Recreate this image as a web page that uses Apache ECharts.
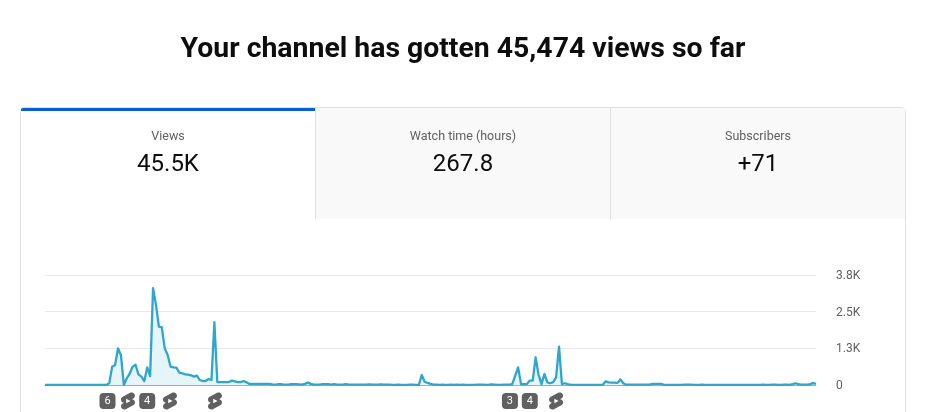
<!DOCTYPE html>
<html>
<head>
<meta charset="utf-8">
<style>html,body{margin:0;padding:0;background:#fff;overflow:hidden}#c{width:926px;height:412px}</style>
<script src="https://cdn.jsdelivr.net/npm/echarts@6/dist/echarts.min.js"></script>
</head>
<body>
<div id="c"></div>
<script>
const pageTitle = 'Your channel has gotten 45,474 views so far';
const tabNames = ['Views', 'Watch time (hours)', 'Subscribers'];
const tabValues = ['45.5K', '267.8', '+71'];
const tickValues = [0, 1250, 2500, 3750];
const tickLabels = ['0', '1.3K', '2.5K', '3.8K'];
const viewsA = [0,0,0,0,0,0,0,0,0,0,0,0,0,0,0,0,0,0,0,0,0,
  0,57,625,680,1250,1020,0,230,385,625,690,365,285,135,600,305,3300,2730,1990,1965,1250,1020,625,600,590,420,400,365,350,330,285,320,170,135,135,205,170,2140,100,
  100,100,100,100,150,125,100,100,135,90];
const viewsB = [35,40,40,40,40,40,40,35,10,10,30,25,10,10,25,30,30,20,10,40,80,40,10,10,10,30,30,30,10,30,10,10,10,30,10,10,10,10,10,10,10,25,10,10,10,25,10,10,15,5,5,15,5,5,5,10,15,5,5,
  340,110,70,40,15,10,5,15,5,5,15,5,15,5,15,5,5,5,5,15,10,15,5,10,20,15,5,5,10,10,10];
const viewsC = [30,320,600,30,30,30,150,150,945,350,30,375,90,60,100,260,1310,30,60,30,5,5,5,5,5,5,5,5,5,5,5,5,
  125,90,80,80,70,190,60,10,10,10,10,10,10,10,10,10,35,35,35,35,5,5,5,5,5,5,5,15,15,15,5,5,5,15,
  3,3,3,3,3,3,3,3,3,3,3,3,3,3,3,3,3,3,3,3,10,3,3,15,15,3,3,15,15,5,30,60,25,15,10,10,30,65,40];
const views = viewsA.concat(viewsB, viewsC);
const markerDays = [21.4, 28.4, 35, 42.8, 58.2, 159.2, 166, 175];
const markerLabels = ['6', '', '4', '', '', '3', '4', ''];

const shortsIcon = 'path://M10 14.65v-5.3L15 12l-5 2.65zm7.77-4.33c-.77-.32-1.2-.5-1.2-.5L18 9.06c1.84-.96 2.53-3.23 1.56-5.06s-3.24-2.53-5.07-1.56L6 6.94c-1.29.68-2.07 2.04-2 3.49.07 1.42.93 2.67 2.22 3.25.03.01 1.2.5 1.2.5L6 14.93c-1.83.97-2.53 3.24-1.56 5.07.97 1.83 3.24 2.53 5.07 1.56l8.5-4.5c1.29-.68 2.06-2.04 1.99-3.49-.07-1.42-.94-2.68-2.23-3.25z';
const font = 'Roboto';
const chart = echarts.init(document.getElementById('c'), null, {renderer: 'canvas'});

const tabX = [21, 316, 611], tabW = [294, 294, 294], tabC = [168, 463, 758];
const gfx = [];
gfx.push({type:'rect', z:0, shape:{x:20.5,y:107.5,width:885,height:320,r:4}, style:{fill:'#fff',stroke:'#e0e0e0',lineWidth:1}});
[1,2].forEach(k => gfx.push({type:'rect', z:1, shape:{x:tabX[k],y:108,width:tabW[k],height:111}, style:{fill:'#f9f9f9'}}));
gfx.push({type:'rect', z:2, shape:{x:315,y:108,width:1,height:111}, style:{fill:'#e0e0e0'}});
gfx.push({type:'rect', z:2, shape:{x:610,y:108,width:1,height:111}, style:{fill:'#e0e0e0'}});
gfx.push({type:'rect', z:3, shape:{x:21,y:108,width:294,height:3,r:[2,0,0,0]}, style:{fill:'#065fd4'}});
tabNames.forEach((n,k) => {
  gfx.push({type:'text', z:4, x:tabC[k], y:137, style:{text:n, font:'12.5px '+font, fill:'#606060', align:'center', verticalAlign:'middle'}});
  gfx.push({type:'text', z:4, x:tabC[k], y:165, style:{text:tabValues[k], font:'24px '+font, fill:'#0d0d0d', align:'center', verticalAlign:'middle'}});
});

chart.setOption({
  animation: false,
  backgroundColor: '#fff',
  title: {text: pageTitle, left: 458, textAlign: 'center', top: 31,
    textStyle: {fontFamily: font, fontSize: 28.4, fontWeight: 700, color: '#0d0d0d'}},
  grid: {left: 45, right: 110, top: 275, bottom: 27},
  graphic: gfx,
  xAxis: {type: 'value', min: 0, max: views.length - 1, show: true,
    axisLine: {show: true, onZero: false, lineStyle: {color: '#aaaaaa', width: 1}},
    axisTick: {show: false}, axisLabel: {show: false}, splitLine: {show: false}},
  yAxis: {type: 'value', position: 'right', min: 0, max: 3750, interval: 1250,
    axisLine: {show: false}, axisTick: {show: false},
    splitLine: {lineStyle: {color: '#e8e8e8', width: 1}},
    axisLabel: {margin: 20,
      formatter: v => '{t|' + tickLabels[tickValues.indexOf(v)] + '}',
      rich: {t: {padding: [2, 0, 0, 0], fontFamily: font, fontSize: 12, color: '#606060'}}}},
  series: [
    {type: 'line', z: 5, data: views.map((v,i) => [i,v]), showSymbol: false, symbol: 'none',
      lineStyle: {color: '#2ea6cd', width: 2.3, join: 'round'},
      areaStyle: {color: '#e6f5fa', opacity: 1}},
    {type: 'scatter', z: 6, clip: false,
      data: markerDays.map((d,i) => ({
        value: [d, 0],
        symbol: markerLabels[i] ? 'roundRect' : shortsIcon,
        symbolSize: markerLabels[i] ? 16 : [14, 17],
        label: {show: !!markerLabels[i], formatter: markerLabels[i]}
      })),
      symbolOffset: [0, 16],
      itemStyle: {color: '#606060', opacity: 1},
      label: {position: 'inside', color: '#fff', fontFamily: font, fontSize: 11}}
  ]
});
</script>
</body>
</html>
